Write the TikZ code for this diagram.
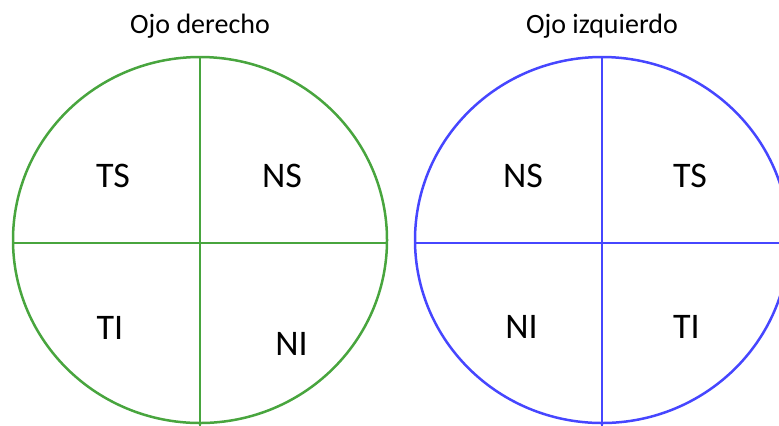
\documentclass[tikz,border=0pt]{standalone}
\usepackage{fontspec}
\setmainfont{Carlito}
\usepackage{tikz}
\definecolor{clrRight}{RGB}{72,165,62}
\definecolor{clrLeft}{RGB}{70,70,255}

\begin{document}
\begin{tikzpicture}[
  x=0.5pt, y=-0.5pt,
  eye/.style={line width=1.25pt},
  ttl/.style={font=\fontsize{14}{16}\selectfont, anchor=base, inner sep=0pt},
  quad/.style={font=\fontsize{18}{20}\selectfont, anchor=base, inner sep=0pt}
]
\useasboundingbox (0,0) rectangle (779,425);
\clip (0,0) rectangle (779,425);

% Ojo derecho
\node[ttl] (titleR) at (200,33) {Ojo derecho};
\draw[eye, clrRight] (200,240) ellipse [x radius=187, y radius=183];
\coordinate (rTop) at (200,57);
\coordinate (rBot) at (200,430);
\coordinate (rW) at (13,243);
\coordinate (rE) at (387,243);
\draw[eye, clrRight] (rTop) -- (rBot);
\draw[eye, clrRight] (rW) -- (rE);
\node[quad] (rTS) at (113,187) {TS};
\node[quad] (rNS) at (282,187) {NS};
\node[quad] (rTI) at (110,339) {TI};
\node[quad] (rNI) at (291.5,355) {NI};

% Ojo izquierdo
\node[ttl] (titleL) at (602,33) {Ojo izquierdo};
\draw[eye, clrLeft] (602,240) ellipse [x radius=187, y radius=183];
\coordinate (lTop) at (602,57);
\coordinate (lBot) at (602,430);
\coordinate (lW) at (415,243);
\coordinate (lE) at (789,243);
\draw[eye, clrLeft] (lTop) -- (lBot);
\draw[eye, clrLeft] (lW) -- (lE);
\node[quad] (lNS) at (523,187) {NS};
\node[quad] (lTS) at (690,187) {TS};
\node[quad] (lNI) at (521.5,338) {NI};
\node[quad] (lTI) at (686.5,338) {TI};

\end{tikzpicture}
\end{document}
